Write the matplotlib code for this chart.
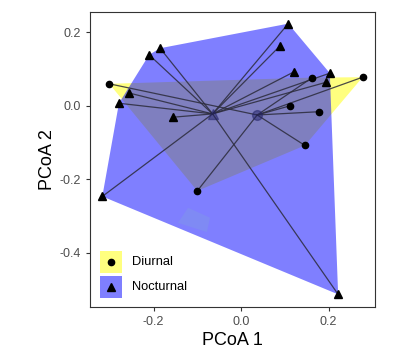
import matplotlib
matplotlib.use("Agg")
import matplotlib.pyplot as plt
import numpy as np
from matplotlib.patches import Polygon, Rectangle

plt.rcParams['font.family'] = ['Liberation Sans', 'DejaVu Sans']

# PCoA scores
noct_x = [0.108, 0.088, -0.185, -0.210, 0.120, 0.203, 0.194, -0.256, -0.279, -0.155, -0.317, 0.222]
noct_y = [0.224, 0.162, 0.157, 0.139, 0.092, 0.089, 0.064, 0.035, 0.007, -0.031, -0.247, -0.514]
diur_x = [-0.301, 0.163, 0.278, 0.112, 0.179, 0.146, -0.100]
diur_y = [0.060, 0.077, 0.078, 0.000, -0.016, -0.108, -0.232]
noct_centroid = (-0.065, -0.022)
diur_centroid = (0.037, -0.025)
groups = ["Diurnal", "Nocturnal"]
# faint square artifact in the original export
artifact_x = [-0.121, -0.071, -0.078, -0.144]
artifact_y = [-0.278, -0.305, -0.344, -0.319]


def hull(xs, ys):
    pts = sorted(set(zip(xs, ys)))
    def cross(o, a, b):
        return (a[0] - o[0]) * (b[1] - o[1]) - (a[1] - o[1]) * (b[0] - o[0])
    lower, upper = [], []
    for p in pts:
        while len(lower) >= 2 and cross(lower[-2], lower[-1], p) <= 0:
            lower.pop()
        lower.append(p)
    for p in reversed(pts):
        while len(upper) >= 2 and cross(upper[-2], upper[-1], p) <= 0:
            upper.pop()
        upper.append(p)
    return lower[:-1] + upper[:-1]


fig = plt.figure(figsize=(4.17, 3.61), dpi=100)
ax = fig.add_axes([0.216, 0.150, 0.683, 0.817])

ax.add_patch(Polygon(hull(diur_x, diur_y), closed=True, facecolor='yellow', alpha=0.5, edgecolor='none', zorder=1))
noct_hull = Polygon(hull(noct_x, noct_y), closed=True, facecolor='blue', alpha=0.5, edgecolor='none', zorder=2)
ax.add_patch(noct_hull)
sq = Polygon(list(zip(artifact_x, artifact_y)), closed=True, facecolor='#80a0e0', alpha=0.35,
             edgecolor='none', zorder=2.5)
ax.add_patch(sq)
sq.set_clip_path(noct_hull)

for x, y in zip(noct_x, noct_y):
    ax.plot([noct_centroid[0], x], [noct_centroid[1], y], color='#2b2b3a', lw=0.9, alpha=0.85, zorder=3)
for x, y in zip(diur_x, diur_y):
    ax.plot([diur_centroid[0], x], [diur_centroid[1], y], color='#2b2b3a', lw=0.9, alpha=0.85, zorder=3)

ax.plot(noct_x, noct_y, ls='none', marker='^', ms=5.5, color='black', zorder=4)
ax.plot(diur_x, diur_y, ls='none', marker='o', ms=4.5, color='black', zorder=4)
ax.plot(*noct_centroid, marker='^', ms=7, color='#222266', alpha=0.5, zorder=4)
ax.plot(*diur_centroid, marker='o', ms=7, color='#222266', alpha=0.5, zorder=4)

ax.set_xlim(-0.345, 0.306)
ax.set_ylim(-0.548, 0.256)
ax.set_xticks([-0.2, 0.0, 0.2])
ax.set_yticks([-0.4, -0.2, 0.0, 0.2])
ax.set_xticklabels(['-0.2', '0.0', '0.2'])
ax.set_yticklabels(['-0.4', '-0.2', '0.0', '0.2'])
ax.tick_params(colors='#333333', labelcolor='#4d4d4d', labelsize=9, length=3, width=0.8)
for s in ax.spines.values():
    s.set_color('#333333')
    s.set_linewidth(0.8)
ax.set_xlabel('PCoA 1', fontsize=13, labelpad=3)
ax.set_ylabel('PCoA 2', fontsize=13, labelpad=3)

# legend keys drawn in axes fraction
keys = [('yellow', 'o', 4.5), ('blue', '^', 6)]
for i, (name, (col, mk, ms)) in enumerate(zip(groups, keys)):
    y0 = 0.153 - i * 0.085
    ax.add_patch(Rectangle((0.035, y0 - 0.037), 0.077, 0.075, transform=ax.transAxes,
                           facecolor=col, alpha=0.5, edgecolor='none', zorder=5))
    ax.plot(0.0735, y0, transform=ax.transAxes, marker=mk, ms=ms, color='black', zorder=6)
    ax.text(0.147, y0, name, transform=ax.transAxes, fontsize=9.3, va='center', ha='left', zorder=6)

fig.savefig('out.png', dpi=100)
